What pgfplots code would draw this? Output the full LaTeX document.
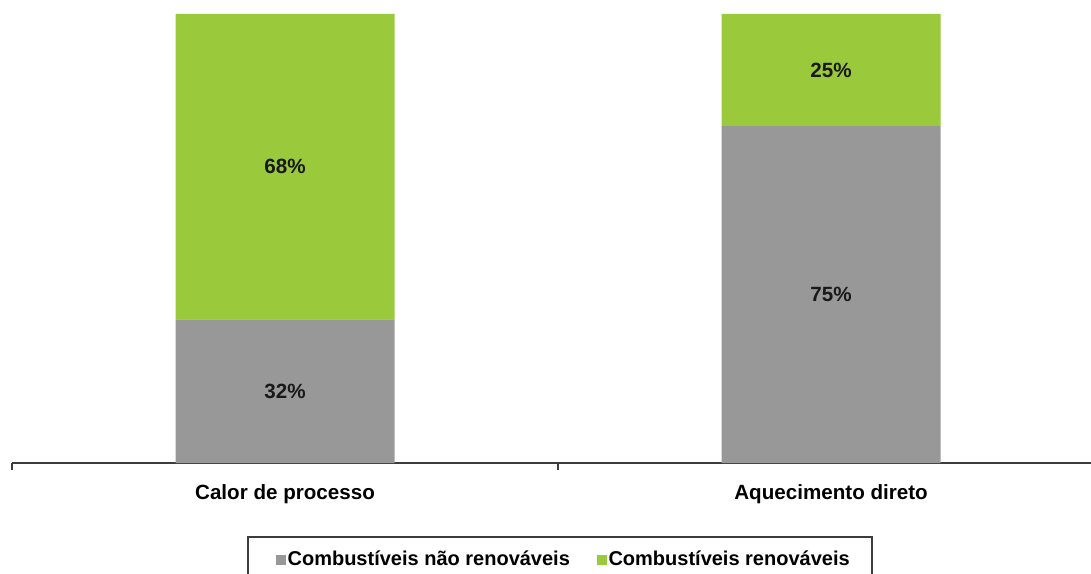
\documentclass[border=0pt]{standalone}
\usepackage{pgfplots}
\pgfplotsset{compat=1.18}
\usepackage{fontspec}
\setmainfont{Liberation Sans}
\definecolor{barGray}{RGB}{152,152,152}
\definecolor{barGreen}{RGB}{154,201,60}
\definecolor{axGray}{RGB}{60,60,60}
\begin{document}
\begin{tikzpicture}
\path[use as bounding box] (-6pt,-55pt) rectangle (539.5pt,231.5pt);
\begin{axis}[
  at={(0,0)}, anchor=south west,
  scale only axis, width=539.5pt, height=224.5pt,
  xmin=-0.5, xmax=1.476, ymin=0, ymax=100,
  ybar stacked, bar width=109.5pt,
  axis x line*=bottom, axis y line=none,
  x axis line style={line width=1pt, color=axGray},
  xtick={0,1}, xticklabels={Calor de processo, Aquecimento direto},
  major tick length=0pt,
  xticklabel style={font=\bfseries\fontsize{10.3}{12}\selectfont, yshift=-7.5pt},
  extra x ticks={-0.5,0.5}, extra x tick labels={},
  extra x tick style={major tick length=3.5pt, tick align=outside,
    tick style={line width=1pt, color=axGray}},
  legend columns=2,
  legend image code/.code={\path (0pt,0pt); \fill[#1, draw=none] (4pt,-2.4pt) rectangle (8.8pt,2.4pt);},
  legend style={at={(0.2178,-0.1626)}, anchor=north west, draw=axGray, line width=1pt,
    font=\bfseries\fontsize{10}{12}\selectfont,
    nodes={inner xsep=1pt},
    /tikz/every even column/.append style={column sep=8.5pt},
    inner xsep=10pt, inner ysep=5pt},
]
\addplot[fill=barGray, draw=none] coordinates {(0,32) (1,75)};
\addlegendentry{Combustíveis não renováveis}
\addplot[fill=barGreen, draw=none] coordinates {(0,68) (1,25)};
\addlegendentry{Combustíveis renováveis}
\end{axis}
\begin{axis}[
  at={(0,0)}, anchor=south west,
  scale only axis, width=539.5pt, height=224.5pt,
  xmin=-0.5, xmax=1.476, ymin=0, ymax=100,
  hide axis,
]
\addplot[draw=none, mark=none, point meta=explicit,
  nodes near coords={\pgfmathprintnumber[assume math mode=true]{\pgfplotspointmeta}\%},
  every node near coord/.append style={anchor=center, font=\bfseries\fontsize{10.3}{12}\selectfont, text=black!90}]
  table[meta=v] {
x y v
0 16 32
0 66 68
1 37.5 75
1 87.5 25
};
\end{axis}
\end{tikzpicture}
\end{document}
